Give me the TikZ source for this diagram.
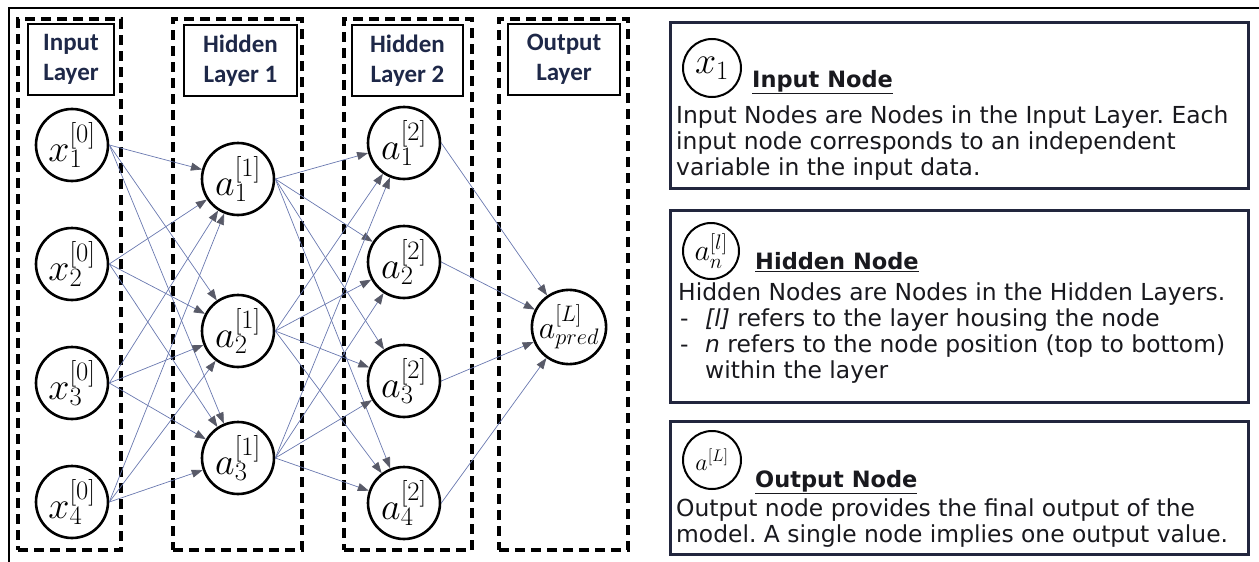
\RequirePackage{fix-cm}
\documentclass[tikz,border=0pt]{standalone}
\usepackage[no-math]{fontspec}
\setmainfont{DejaVu Sans}
\newfontfamily\labelfont{Carlito}
\usetikzlibrary{arrows.meta,shadows}
\definecolor{navy}{RGB}{30,40,72}
\definecolor{frame}{RGB}{34,38,62}
\definecolor{wire}{RGB}{105,120,175}
\definecolor{tipgray}{RGB}{88,90,104}
\definecolor{ink}{RGB}{25,25,30}

\begin{document}
\frenchspacing
\begin{tikzpicture}[x=1pt,y=-1pt,
  neuron/.style={circle,draw,line width=2.6pt,minimum size=72pt,inner sep=0pt,
    font=\fontsize{38}{38}\selectfont},
  layerbox/.style={draw,line width=3.2pt,dash pattern=on 10pt off 6pt,
    minimum height=531pt,inner sep=0pt},
  titlebox/.style={draw,line width=1.2pt,minimum height=71pt,inner sep=0pt,
    align=center,text=navy,font=\labelfont\bfseries\fontsize{25}{30}\selectfont},
  wire/.style={draw=wire,line width=0.7pt,
    -{Triangle[length=11pt,width=8pt,color=tipgray]}},
  infobox/.style={draw=frame,line width=3pt,fill=white,minimum width=578pt,inner sep=0pt,
    drop shadow={shadow xshift=2pt,shadow yshift=-2pt,fill=gray!55,opacity=0.6}},
  keynode/.style={circle,draw,line width=2pt,minimum size=58pt,inner sep=0pt},
  head/.style={anchor=base west,inner sep=0pt,text=ink,
    font=\bfseries\fontsize{22.5}{26}\selectfont},
  desc/.style={anchor=base west,inner sep=0pt,text=ink,
    font=\fontsize{23.4}{26}\selectfont},
]
\useasboundingbox (0,0) rectangle (1259,562);

% outer frame (top and left edges)
\draw[line width=1.8pt] (9,562) -- (9,8) -- (1259,8);

% dashed layer columns
\node[layerbox,minimum width=103pt] (colin)  at (69.5,284.5) {};
\node[layerbox,minimum width=129pt] (colh1)  at (237.5,284.5) {};
\node[layerbox,minimum width=128pt] (colh2)  at (408,284.5) {};
\node[layerbox,minimum width=129pt] (colout) at (563.5,284.5) {};

% layer titles
\node[titlebox,minimum width=86pt]  (tin)  at (71,59.5)    {Input\\Layer};
\node[titlebox,minimum width=113pt] (th1)  at (240.5,60.5) {Hidden\\Layer 1};
\node[titlebox,minimum width=111pt] (th2)  at (407.5,60.5) {Hidden\\Layer 2};
\node[titlebox,minimum width=112pt] (tout) at (564,59.5)   {Output\\Layer};

% neurons
\node[neuron] (x1) at (72,145) {$x_1^{[0]}$};
\node[neuron] (x2) at (72,264) {$x_2^{[0]}$};
\node[neuron] (x3) at (72,383) {$x_3^{[0]}$};
\node[neuron] (x4) at (72,502) {$x_4^{[0]}$};

\node[neuron] (h1) at (238,179) {$a_1^{[1]}$};
\node[neuron] (h2) at (238,331) {$a_2^{[1]}$};
\node[neuron] (h3) at (238,458) {$a_3^{[1]}$};

\node[neuron] (g1) at (404,143) {$a_1^{[2]}$};
\node[neuron] (g2) at (404,262) {$a_2^{[2]}$};
\node[neuron] (g3) at (404,381) {$a_3^{[2]}$};
\node[neuron] (g4) at (404,503) {$a_4^{[2]}$};

\node[neuron,font=\fontsize{32}{32}\selectfont] (out) at (569,327) {$a_{pred}^{[L]}$};

% connections
\foreach \i in {1,...,4}
  \foreach \j in {1,2,3}
    \draw[wire] (x\i.east) -- (h\j);
\foreach \i in {1,2,3}
  \foreach \j in {1,...,4}
    \draw[wire] (h\i.east) -- (g\j);
\foreach \i in {1,...,4}
  \draw[wire] (g\i.east) -- (out);

% legend: input node
\node[infobox,minimum height=166pt] (boxin) at (959,105) {};
\node[keynode,font=\fontsize{38}{38}\selectfont] (kin) at (712,68) {$x_1$};
\node[head] (hin) at (752,87) {\underline{Input Node}};
\node[desc] (din1) at (676,123) {Input Nodes are Nodes in the Input Layer. Each};
\node[desc] (din2) at (676,149) {input node corresponds to an independent};
\node[desc] (din3) at (676,175) {variable in the input data.};

% legend: hidden node
\node[infobox,minimum height=192pt] (boxhid) at (959,306) {};
\node[keynode,minimum size=56pt,font=\fontsize{30}{30}\selectfont] (khid) at (711,251) {$a_n^{[l]}$};
\node[head] (hhid) at (755,269) {\underline{Hidden Node}};
\node[desc] (dhid1) at (678,300) {Hidden Nodes are Nodes in the Hidden Layers.};
\node[desc] (bul1)  at (680,326) {-};
\node[desc] (dhid2) at (705,326) {\textit{[l]} refers to the layer housing the node};
\node[desc] (bul2)  at (680,352) {-};
\node[desc] (dhid3) at (705,352) {\textit{n} refers to the node position (top to bottom)};
\node[desc] (dhid4) at (705,378) {within the layer};

% legend: output node
\node[infobox,minimum height=133pt] (boxout) at (959,487.5) {};
\node[keynode,font=\fontsize{24}{24}\selectfont] (kout) at (712,460) {$a^{[L]}$};
\node[head] (hout) at (755,487) {\underline{Output Node}};
\node[desc] (dout1) at (676,516) {Output node provides the final output of the};
\node[desc] (dout2) at (676,542) {model. A single node implies one output value.};
\end{tikzpicture}
\end{document}
